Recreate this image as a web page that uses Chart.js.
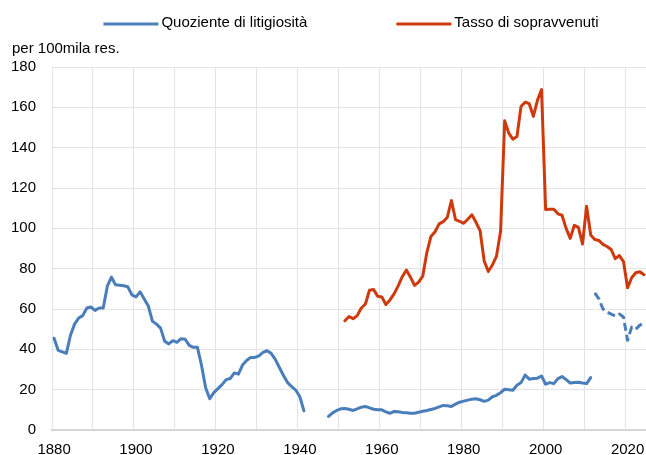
<!DOCTYPE html>
<html>
<head>
<meta charset="utf-8">
<script src="https://cdn.jsdelivr.net/npm/chart.js@4"></script>
<style>
  html, body { margin: 0; padding: 0; background: #fff; }
</style>
</head>
<body>
<canvas id="litigChart" width="646" height="455"></canvas>
<script>
const firstYear = 1880;
const lastYear = 2024;

// Quoziente di litigiosità 1880-1941
const litigEarly = [45.5, 39.5, 38.7, 38, 47, 52.5, 55.5, 56.7, 60.5, 61,
    59.3, 60.5, 60.5, 71.3, 75.8, 72, 71.8, 71.5, 71, 67,
    66, 68.5, 65, 61.5, 54, 52.5, 50.5, 44, 42.7, 44.3,
    43.5, 45.3, 45, 42, 41, 41, 32, 21, 15.5, 18.5,
    20.5, 22.5, 25, 25.5, 28.3, 27.7, 32.2, 34.5, 36, 36,
    36.8, 38.5, 39.3, 38, 35, 31, 27, 23.5, 21.5, 19.8,
    16.5, 9.5];
const litigEarlyStart = 1880;

// Quoziente di litigiosità 1947-2011
const litigLate = [6.7, 8.5, 9.7, 10.5, 10.7, 10.3, 9.7, 10.5, 11.3, 11.7,
    11, 10.3, 10, 10, 9, 8.3, 9.2, 9, 8.7, 8.5,
    8.3, 8.3, 8.8, 9.3, 9.7, 10.2, 10.7, 11.5, 12.2, 12,
    11.7, 12.8, 13.8, 14.3, 14.8, 15.3, 15.5, 15, 14.2, 14.8,
    16.5, 17.2, 18.5, 20.2, 20, 19.7, 22.2, 23.5, 27.2, 25.2,
    25.5, 25.7, 26.8, 22.7, 23.5, 23, 25.5, 26.5, 25, 23.3,
    23.5, 23.7, 23.3, 23, 26];
const litigLateStart = 1947;

// Quoziente di litigiosità 2012-2024 (tratteggiato)
const litigRecent = [68, 65, 60, 58.5, 57.5, 56.5, 57.5, 56, 44.5, 51, 50, 52, 53];
const litigRecentStart = 2012;

// Tasso di sopravvenuti 1951-2024
const sopravvenuti = [54.2, 56.3, 55.2, 56.7, 60.5, 62.5, 69.3, 69.7, 66.3,
    66, 62.2, 64.5, 67.5, 71.5, 76, 79.3, 75.8, 71.7, 73.3,
    76.3, 88, 96, 98.3, 102.2, 103.3, 105.5, 113.8, 104.3, 103.5,
    102.5, 104.5, 106.7, 103, 98.8, 83.8, 78.6, 81.8, 86.2, 98.5,
    153.3, 147.2, 144.2, 145.5, 160.5, 162.5, 161.8, 155.5, 163.5, 168.8,
    109.3, 109.5, 109.5, 107.2, 106.5, 100, 95, 101.5, 100.5, 92.2,
    111, 96.7, 94.5, 94, 92, 91, 89.5, 85, 86.5, 83.5,
    70.5, 75.5, 78, 78.5, 77];
const sopravvenutiStart = 1951;

const seriesNames = ['Quoziente di litigiosità', 'Tasso di sopravvenuti'];
const unitLabel = 'per 100mila res.';
const yTicks = { min: 0, max: 180, step: 20 };

const BLUE = '#4a7ebb';
const RED = '#cf3a0c';
const FONT = '"Liberation Sans", Arial, sans-serif';

const years = [];
for (let y = firstYear; y <= lastYear; y++) years.push(y);
const labels = years.map(String);

function fromYear(start, values) {
    return values.map((v, i) => ({ x: String(start + i), y: v }));
}

function lineSet(label, data, color, dash) {
    return {
        label: label,
        data: data,
        borderColor: color,
        backgroundColor: color,
        borderWidth: 3,
        borderDash: dash || [],
        borderJoinStyle: 'round',
        borderCapStyle: dash ? 'butt' : 'round',
        pointRadius: 0,
        tension: 0,
        fill: false,
        spanGaps: false
    };
}

// legend + unit label drawn at the top
const headerPlugin = {
    id: 'header',
    afterDraw(chart) {
        const c = chart.ctx;
        const area = chart.chartArea;
        c.save();
        c.font = '15px ' + FONT;
        c.textBaseline = 'middle';
        c.fillStyle = '#000';
        c.textAlign = 'left';
        c.fillText(unitLabel, 12, 49);

        const items = [
            { text: seriesNames[0], color: BLUE },
            { text: seriesNames[1], color: RED }
        ];
        const lineLen = 55, textGap = 3, itemGap = 89;
        let total = 0;
        items.forEach((it, i) => {
            it.w = c.measureText(it.text).width;
            total += lineLen + textGap + it.w + (i ? itemGap : 0);
        });
        let x = (area.left + area.right) / 2 + 2 - total / 2;
        const y = 23;
        items.forEach(it => {
            c.strokeStyle = it.color;
            c.lineWidth = 3;
            c.lineCap = 'butt';
            c.beginPath();
            c.moveTo(x, y + 1);
            c.lineTo(x + lineLen, y + 1);
            c.stroke();
            c.fillText(it.text, x + lineLen + textGap, y);
            x += lineLen + textGap + it.w + itemGap;
        });
        c.restore();
    }
};

const ctx = document.getElementById('litigChart').getContext('2d');
const litigChart = new Chart(ctx, {
    type: 'line',
    data: {
        labels: labels,
        datasets: [
            lineSet(seriesNames[0], fromYear(litigEarlyStart, litigEarly), BLUE),
            lineSet(seriesNames[0], fromYear(litigLateStart, litigLate), BLUE),
            lineSet(seriesNames[0], fromYear(litigRecentStart, litigRecent), BLUE, [8, 4]),
            lineSet(seriesNames[1], fromYear(sopravvenutiStart, sopravvenuti), RED)
        ]
    },
    options: {
        responsive: false,
        animation: false,
        devicePixelRatio: 1,
        layout: { padding: { top: 67, left: -5, right: 0, bottom: -8 } },
        plugins: {
            legend: { display: false },
            tooltip: { enabled: false }
        },
        scales: {
            x: {
                type: 'category',
                offset: true,
                grid: {
                    offset: true,
                    drawTicks: true,
                    tickLength: 11,
                    tickColor: 'rgba(0,0,0,0)',
                    color: c => (c.index !== undefined && years[c.index] % 10 === 0) ? '#e4e4e4' : 'rgba(0,0,0,0)'
                },
                border: { color: '#d6d6d6', width: 2 },
                ticks: {
                    autoSkip: false,
                    maxRotation: 0,
                    padding: 0,
                    color: '#000',
                    font: { family: FONT, size: 15 },
                    callback: (v, i) => years[i] % 20 === 0 ? String(years[i]) : ''
                }
            },
            y: {
                min: yTicks.min,
                max: yTicks.max,
                grid: { color: '#e4e4e4', drawTicks: false },
                border: { display: false },
                ticks: {
                    stepSize: yTicks.step,
                    padding: 16,
                    color: '#000',
                    font: { family: FONT, size: 15 }
                }
            }
        }
    },
    plugins: [headerPlugin]
});
</script>
</body>
</html>
